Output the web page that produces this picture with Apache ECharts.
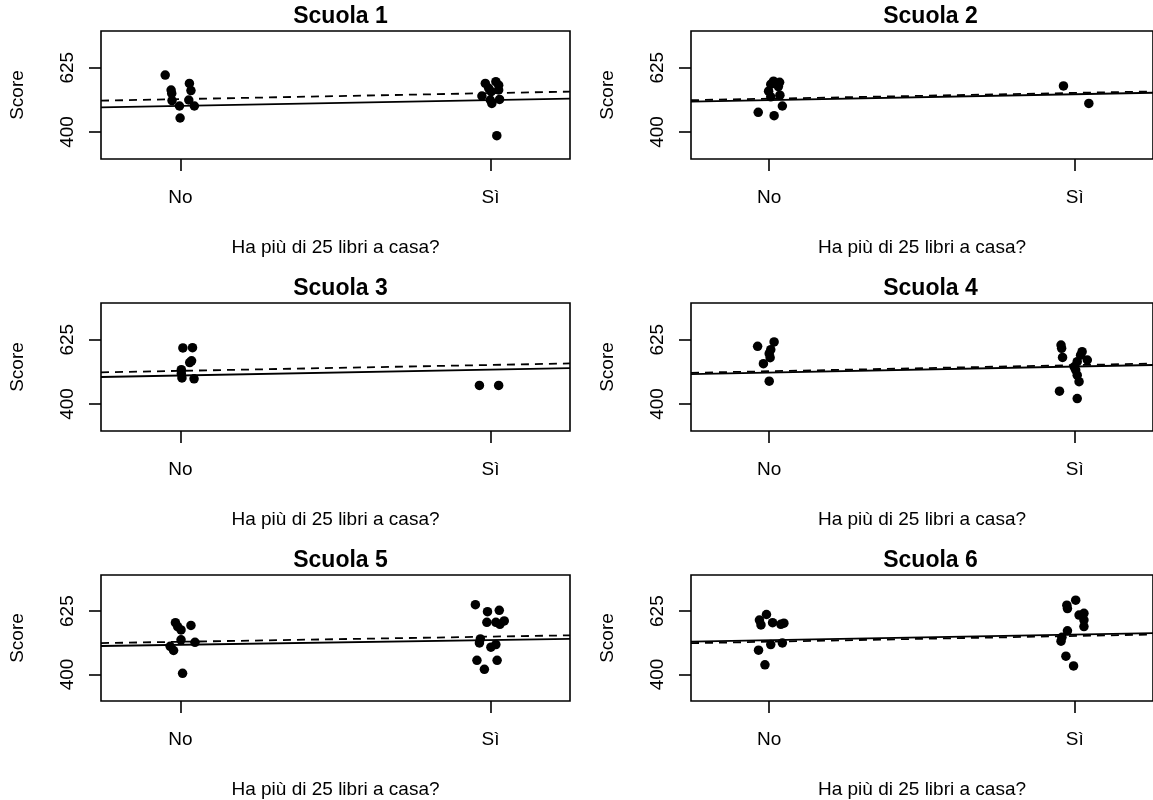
<!DOCTYPE html>
<html>
<head>
<meta charset="utf-8">
<script src="https://cdn.jsdelivr.net/npm/echarts@6/dist/echarts.min.js"></script>
<style>
html,body{margin:0;padding:0;background:#fff;}
#chart{width:1153px;height:800px;}
</style>
</head>
<body>
<div id="chart"></div>
<script>
// ---- data ----
const schools = ["Scuola 1", "Scuola 2", "Scuola 3", "Scuola 4", "Scuola 5", "Scuola 6"];
const categories = ["No", "Sì"];
const yTicks = [400, 625];
const xLabel = "Ha più di 25 libri a casa?";
const yLabel = "Score";

// points: [jittered x (1 = No, 2 = Sì), score]
const s1Points = [[0.951,599],[0.970,547],[0.972,535],[0.973,510],[0.997,491],[0.999,449],[1.029,570],[1.034,545],[1.027,512],[1.045,491],
  [1.983,570],[2.017,576],[2.026,564],[1.994,553],[2.002,541],[2.026,547],[1.972,526],[1.999,512],[2.004,500],[2.029,514],[2.020,387]];
const s2Points = [[1.014,578],[1.005,567],[1.034,574],[1.030,559],[0.998,543],[1.005,523],[1.035,529],[1.043,491],[0.964,469],[1.016,457],
  [1.963,561],[2.046,500]];
const s3Points = [[1.008,596],[1.039,597],[1.036,551],[1.030,545],[1.003,520],[1.003,506],[1.005,491],[1.044,488],
  [1.964,465],[2.026,465]];
const s4Points = [[0.962,602],[1.016,617],[1.005,590],[1.000,576],[1.003,562],[0.981,541],[1.000,480],
  [1.955,606],[1.957,595],[1.960,563],[2.024,583],[2.019,571],[2.041,554],[2.008,548],[1.998,530],[2.003,519],[2.008,501],[2.014,478],[1.950,445],[2.008,419]];
const s5Points = [[0.984,584],[0.991,570],[1.002,558],[1.034,574],[1.002,523],[1.047,514],[0.967,500],[0.978,485],[1.007,404],
  [1.951,648],[1.990,623],[2.028,628],[1.988,585],[2.017,585],[2.044,590],[2.030,578],[1.967,526],[1.964,512],[2.017,506],[2.001,497],[1.956,450],[2.021,450],[1.980,418]];
const s6Points = [[0.991,613],[0.968,593],[0.973,576],[1.011,584],[1.038,578],[1.048,582],[1.005,506],[1.043,512],[0.965,486],[0.986,434],
  [2.003,664],[1.974,646],[1.976,634],[2.030,617],[2.014,611],[2.030,593],[2.030,570],[1.976,555],[1.958,532],[1.955,518],[1.971,465],[1.996,430]];
const points = [s1Points, s2Points, s3Points, s4Points, s5Points, s6Points];

// fitted values at No (x=1) and Sì (x=2)
const solidFit = [[491.5,511.5],[511.4,532.0],[499.7,520.0],[510.0,531.0],[505.4,522.2],[521.5,541.8]];
const dashedFit = [[515.0,536.0],[516.5,536.8],[516.0,536.6],[514.6,536.0],[516.0,534.3],[516.3,536.7]];

// ---- chart ----
const X_MIN = 0.744, X_MAX = 2.256, Y_MIN = 305.5, Y_MAX = 753.4;
const FONT = "Liberation Sans, Arial, Helvetica, sans-serif";
const LABEL_SIZE = 19;

function lineEnds(fit) {
  const f = x => fit[0] + (fit[1] - fit[0]) * (x - 1);
  return [[X_MIN, f(X_MIN)], [X_MAX, f(X_MAX)]];
}

const grid = [], xAxis = [], yAxis = [], series = [], title = [];
schools.forEach((name, i) => {
  const r = Math.floor(i / 2), c = i % 2;
  const left = 101 + 590 * c, top = 31 + 272 * r, width = 469, height = 128;
  grid.push({ left: left, top: top, width: width, height: height, show: true,
    borderColor: '#000', borderWidth: 1.6, backgroundColor: 'transparent' });
  title.push({ text: name, left: left + width / 2, top: top - 31, textAlign: 'center',
    textStyle: { fontFamily: FONT, fontSize: 23, fontWeight: 'bold', color: '#000' } });
  xAxis.push({ gridIndex: i, type: 'value', min: X_MIN, max: X_MAX,
    name: xLabel, nameLocation: 'middle', nameGap: 79,
    nameTextStyle: { fontFamily: FONT, fontSize: LABEL_SIZE, color: '#000' },
    axisLine: { show: false }, splitLine: { show: false },
    axisTick: { show: true, inside: false, length: 12, customValues: [1, 2], lineStyle: { color: '#000', width: 1.6 } },
    axisLabel: { show: true, margin: 29, customValues: [1, 2], fontFamily: FONT, fontSize: LABEL_SIZE, color: '#000',
      formatter: v => categories[Math.round(v) - 1] }
  });
  yAxis.push({ gridIndex: i, type: 'value', min: Y_MIN, max: Y_MAX,
    name: yLabel, nameLocation: 'middle', nameGap: 74, nameRotate: 90,
    nameTextStyle: { fontFamily: FONT, fontSize: LABEL_SIZE, color: '#000' },
    axisLine: { show: false }, splitLine: { show: false },
    axisTick: { show: true, inside: false, length: 12, customValues: yTicks, lineStyle: { color: '#000', width: 1.6 } },
    axisLabel: { show: true, rotate: 90, margin: 24, customValues: yTicks, fontFamily: FONT, fontSize: LABEL_SIZE, color: '#000' }
  });
  series.push({ type: 'scatter', xAxisIndex: i, yAxisIndex: i, data: points[i],
    symbol: 'circle', symbolSize: 9.5, itemStyle: { color: '#000', opacity: 1 }, silent: true, z: 3 });
  series.push({ type: 'line', xAxisIndex: i, yAxisIndex: i, data: lineEnds(solidFit[i]),
    showSymbol: false, symbol: 'none', lineStyle: { color: '#000', width: 1.8, type: 'solid' }, silent: true, z: 2 });
  series.push({ type: 'line', xAxisIndex: i, yAxisIndex: i, data: lineEnds(dashedFit[i]),
    showSymbol: false, symbol: 'none', lineStyle: { color: '#000', width: 1.8, type: [8, 6] }, silent: true, z: 2 });
});

const chart = echarts.init(document.getElementById('chart'), null, { renderer: 'canvas' });
chart.setOption({
  animation: false,
  backgroundColor: '#fff',
  title: title,
  grid: grid,
  xAxis: xAxis,
  yAxis: yAxis,
  series: series
});
</script>
</body>
</html>
